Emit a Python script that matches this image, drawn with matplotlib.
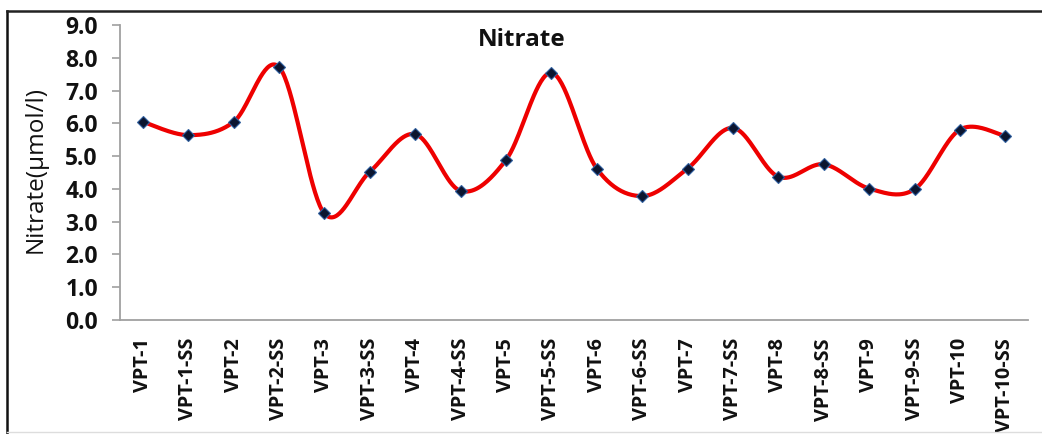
import numpy as np
import matplotlib.pyplot as plt
from matplotlib.lines import Line2D

# sampling sites and nitrate values (umol/l)
sites = ['VPT-1', 'VPT-1-SS', 'VPT-2', 'VPT-2-SS', 'VPT-3', 'VPT-3-SS',
         'VPT-4', 'VPT-4-SS', 'VPT-5', 'VPT-5-SS', 'VPT-6', 'VPT-6-SS',
         'VPT-7', 'VPT-7-SS', 'VPT-8', 'VPT-8-SS', 'VPT-9', 'VPT-9-SS',
         'VPT-10', 'VPT-10-SS']
nitrate = [6.05, 5.64, 6.04, 7.72, 3.25, 4.52, 5.67, 3.94, 4.88, 7.54,
           4.62, 3.78, 4.62, 5.86, 4.37, 4.75, 4.01, 3.99, 5.81, 5.61]
yticks = [0, 1, 2, 3, 4, 5, 6, 7, 8, 9]


def smooth_curve(x, y, n=40):
    """Excel-like smoothed line: cubic Bezier through points (Catmull-Rom)."""
    x = np.asarray(x, float)
    y = np.asarray(y, float)
    px = np.concatenate([[x[0]], x, [x[-1]]])
    py = np.concatenate([[y[0]], y, [y[-1]]])
    t = np.linspace(0, 1, n)[:, None]
    xs, ys = [], []
    for i in range(1, len(px) - 2):
        p0 = np.array([px[i], py[i]])
        p3 = np.array([px[i + 1], py[i + 1]])
        c1 = p0 + (np.array([px[i + 1], py[i + 1]]) - np.array([px[i - 1], py[i - 1]])) / 6
        c2 = p3 - (np.array([px[i + 2], py[i + 2]]) - p0) / 6
        b = ((1 - t) ** 3) * p0 + 3 * ((1 - t) ** 2) * t * c1 + 3 * (1 - t) * t ** 2 * c2 + t ** 3 * p3
        xs.append(b[:, 0])
        ys.append(b[:, 1])
    return np.concatenate(xs), np.concatenate(ys)


plt.rcParams['font.family'] = ['Open Sans', 'DejaVu Sans']

fig = plt.figure(figsize=(10.42, 4.34), dpi=100)
ax = fig.add_axes([0.1152, 0.2627, 0.8714, 0.6797])

x = np.arange(len(sites))
sx, sy = smooth_curve(x, nitrate)
ax.plot(sx, sy, color='#ee0000', lw=3, solid_capstyle='round', zorder=2)
ax.plot(x, nitrate, linestyle='none', marker='D', markersize=6,
        markerfacecolor='#0b1530', markeredgecolor='#2f5f9f', markeredgewidth=0.8, zorder=3)

ax.set_xlim(-0.5, len(sites) - 0.5)
ax.set_ylim(0, 9)
ax.set_yticks(yticks)
ax.set_yticklabels([f'{v:.1f}' for v in yticks], fontsize=16.5, fontweight='bold', color='#111111')
ax.set_xticks(x)
ax.set_xticklabels(sites, rotation=90, fontsize=14.3, fontweight='bold', color='#111111')
ax.tick_params(axis='y', length=6, width=1.2, color='#a0a0a0', pad=10)
ax.tick_params(axis='x', length=0, pad=13)

for side in ['top', 'right']:
    ax.spines[side].set_visible(False)
for side in ['left', 'bottom']:
    ax.spines[side].set_color('#a0a0a0')
    ax.spines[side].set_linewidth(1.3)

ax.set_ylabel('Nitrate(µmol/l)', fontsize=17.5, color='#111111')
ax.yaxis.set_label_coords(-0.080, 0.51)

fig.text(0.501, 1 - 40 / 434, 'Nitrate', ha='center', va='center',
         fontsize=17.5, fontweight='bold', color='#111111')

# outer frame of the original figure
fig.add_artist(Line2D([7 / 1042, 7 / 1042], [0, 1 - 11 / 434], color='#111111', lw=1.8,
                      transform=fig.transFigure))
fig.add_artist(Line2D([7 / 1042, 1], [1 - 11 / 434, 1 - 11 / 434], color='#222222', lw=1.8,
                      transform=fig.transFigure))
fig.add_artist(Line2D([7 / 1042, 1], [2 / 434, 2 / 434], color='#dddddd', lw=1,
                      transform=fig.transFigure))

fig.savefig('out.png', dpi=100)
